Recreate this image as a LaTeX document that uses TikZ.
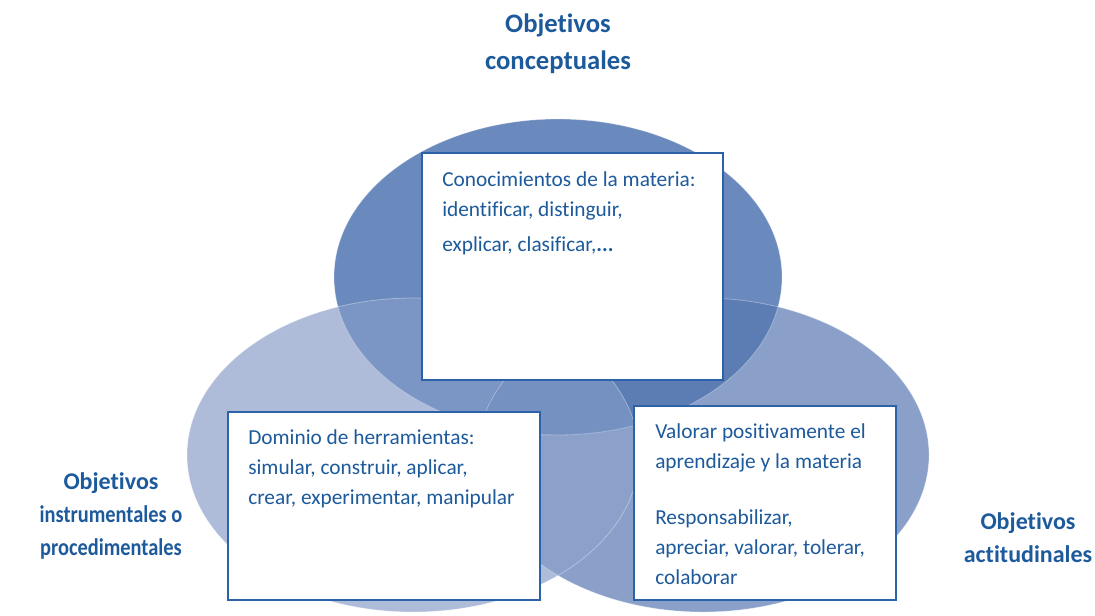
\documentclass[tikz,border=0pt]{standalone}
\usepackage{fontspec}
\setmainfont[Ligatures=NoCommon]{Carlito}
\usetikzlibrary{positioning}

\definecolor{textblue}{HTML}{1D5A9C}
\definecolor{boxblue}{HTML}{2C62A8}
\definecolor{concfill}{HTML}{6A89BD}
\definecolor{instrfill}{HTML}{AEBCDA}
\definecolor{actfill}{HTML}{8AA0C9}
\definecolor{concinstr}{HTML}{7B96C4}
\definecolor{concact}{HTML}{5B7DB3}
\definecolor{instract}{HTML}{8BA1CA}
\definecolor{allthree}{HTML}{7591C1}

\newcommand{\narrowline}[1]{\scalebox{0.85}[1]{#1}}

\begin{document}
\begin{tikzpicture}[x=0.75pt,y=-0.75pt,font=\fontsize{16}{22.5}\selectfont]
    \tikzset{
        box/.style={
            draw=boxblue,line width=1.5pt,fill=white,
            inner sep=0pt,outer sep=0pt
        },
        boxtext/.style={text=textblue,align=left,inner sep=0pt,anchor=north west},
        title/.style={
            text=textblue,align=center,inner sep=0pt,anchor=north,
            font=\fontsize{18}{25}\selectfont\bfseries
        },
        rim/.style={draw=white,draw opacity=0.35,line width=0.6pt}
    }
    \useasboundingbox (0,0) rectangle (1095,615);

    \coordinate (conc-c) at (558,277);
    \coordinate (instr-c) at (413,455);
    \coordinate (act-c) at (703,455);

    % circles and their overlaps
    \fill[instrfill] (instr-c) ellipse (226 and 157);
    \fill[actfill] (act-c) ellipse (226 and 157);
    \fill[concfill] (conc-c) ellipse (224 and 158);
    \begin{scope}
        \clip (instr-c) ellipse (226 and 157);
        \fill[instract] (act-c) ellipse (226 and 157);
    \end{scope}
    \begin{scope}
        \clip (conc-c) ellipse (224 and 158);
        \fill[concinstr] (instr-c) ellipse (226 and 157);
        \fill[concact] (act-c) ellipse (226 and 157);
        \clip (instr-c) ellipse (226 and 157);
        \fill[allthree] (act-c) ellipse (226 and 157);
    \end{scope}
    \draw[rim] (instr-c) ellipse (226 and 157);
    \draw[rim] (act-c) ellipse (226 and 157);
    \draw[rim] (conc-c) ellipse (224 and 158);

    % boxes
    \node[box,minimum width=225.75pt,minimum height=170.25pt]
        (conc-box) at (572.5,266.5) {};
    \node[box,minimum width=234pt,minimum height=141pt]
        (instr-box) at (384,506) {};
    \node[box,minimum width=196.5pt,minimum height=145.5pt]
        (act-box) at (765,503) {};

    \node[boxtext] (conc-text) at ([shift={(20,18)}]conc-box.north west)
        {Conocimientos de la materia:\\
         identificar, distinguir,\\[4pt]
         explicar, clasificar,\textbf{...}};
    \node[boxtext] (instr-text) at ([shift={(20,17)}]instr-box.north west)
        {Dominio de herramientas:\\
         simular, construir, aplicar,\\
         crear, experimentar, manipular};
    \node[boxtext] (act-text) at ([shift={(21,17)}]act-box.north west)
        {Valorar positivamente el\\
         aprendizaje y la materia\\[20pt]
         Responsabilizar,\\
         apreciar, valorar, tolerar,\\
         colaborar};

    % titles
    \node[title,font=\fontsize{20}{27.5}\selectfont\bfseries]
        (conc-title) at (558,14) {Objetivos\\conceptuales};
    \node[title] (instr-title) at (111,472)
        {Objetivos\\\narrowline{instrumentales o}\\\narrowline{procedimentales}};
    \node[title] (act-title) at (1028,512) {Objetivos\\actitudinales};
\end{tikzpicture}
\end{document}
